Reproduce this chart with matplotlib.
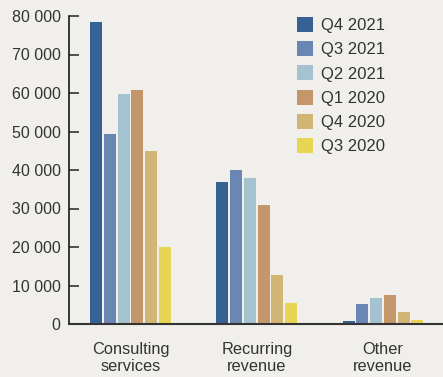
import numpy as np
import matplotlib
matplotlib.use("Agg")
import matplotlib.pyplot as plt

# Données
categories = ["Consulting\nservices", "Recurring\nrevenue", "Other\nrevenue"]
periods = ["Q4 2021", "Q3 2021", "Q2 2021", "Q1 2020", "Q4 2020", "Q3 2020"]
q4_2021 = [78500, 36900, 800]
q3_2021 = [49400, 40000, 5200]
q2_2021 = [59700, 38000, 6800]
q1_2020 = [60800, 30900, 7500]
q4_2020 = [44900, 12700, 3100]
q3_2020 = [20000, 5500, 1000]
series = [q4_2021, q3_2021, q2_2021, q1_2020, q4_2020, q3_2020]
colors = ["#356193", "#6a86b2", "#a5c2d1", "#c4976a", "#d3b676", "#e8d553"]
yticks = [0, 10000, 20000, 30000, 40000, 50000, 60000, 70000, 80000]

plt.rcParams["font.family"] = ["Liberation Sans", "DejaVu Sans"]
bg = "#f0efeb"

fig = plt.figure(figsize=(4.43, 3.77), dpi=100, facecolor=bg)
ax = fig.add_axes([69 / 443, 1 - 324 / 377, 1 - 69 / 443, (324 - 16) / 377])
ax.set_facecolor(bg)

x = np.arange(len(categories))
step = 0.109
width = 0.095
for i, (vals, col, lab) in enumerate(zip(series, colors, periods)):
    ax.bar(x + (i - 2.5) * step, vals, width, color=col, label=lab, zorder=2)

ax.set_xlim(-0.487, 2.475)
ax.set_ylim(0, 80000)
ax.set_yticks(yticks)
ax.set_yticklabels([f"{v:,}".replace(",", " ") for v in yticks])
ax.set_xticks(x)
ax.set_xticklabels(categories, linespacing=1.2)

for s in ["top", "right"]:
    ax.spines[s].set_visible(False)
ax.spines["left"].set_color("#1a1a1a")
ax.spines["left"].set_linewidth(1.2)
ax.spines["bottom"].set_color("#333333")
ax.spines["bottom"].set_linewidth(1.5)
ax.spines["bottom"].set_zorder(3)

ax.tick_params(axis="y", direction="in", length=7, width=1.2, color="#333333",
               labelsize=11.5, labelcolor="#333333", pad=6)
ax.tick_params(axis="x", length=0, labelsize=11.8, labelcolor="#333333", pad=13)

leg = ax.legend(loc="upper left", bbox_to_anchor=(290 / 443, 1 - 10 / 377),
                bbox_transform=fig.transFigure, frameon=False, borderaxespad=0,
                fontsize=12, handlelength=1.0, handleheight=1.0, handletextpad=0.45,
                labelspacing=0.49, labelcolor="#333333", borderpad=0.4)

fig.savefig("out.png", dpi=100, facecolor=bg)
